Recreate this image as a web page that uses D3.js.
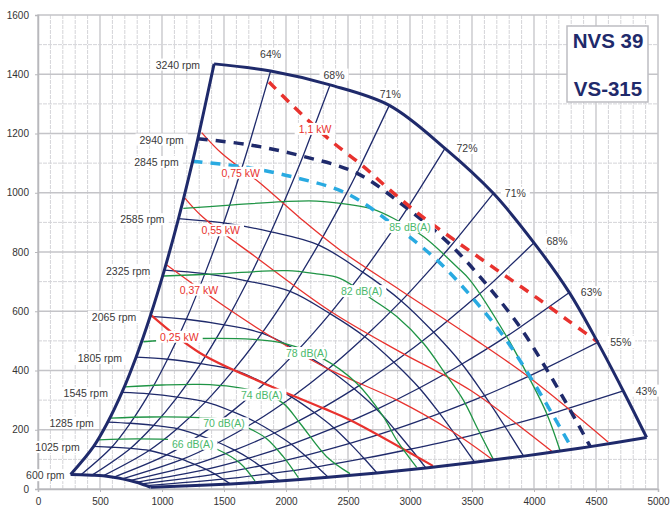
<!DOCTYPE html>
<html>
<head>
<meta charset="utf-8">
<script src="https://cdn.jsdelivr.net/npm/d3@7"></script>
<style>
body { margin: 0; background: #fff; }
text { font-family: "Liberation Sans", Arial, sans-serif; }
</style>
</head>
<body>
<script>
// speed curves, [flow m3/h, pressure Pa]
var rpmValues = [600, 1025, 1285, 1545, 1805, 2065, 2325, 2585, 2845, 2940, 3240];

var curve600  = [[263,49],[347,48.4],[436,46.8],[525,44.4],[608,39.4],[680,34.2],[741,28.5],[794,22.7],[836,17],[874,11.4],[909,6]];
var curve1025 = [[449,144],[594,141],[745,137],[896,130],[1038,115],[1162,100],[1265,83],[1356,66],[1428,50],[1493,33],[1553,17]];
var curve1285 = [[563,226],[744,222],[934,215],[1124,204],[1302,181],[1456,157],[1586,131],[1700,104],[1790,78],[1872,52],[1947,27]];
var curve1545 = [[677,326],[895,321],[1123,310],[1351,294],[1565,262],[1751,227],[1907,189],[2043,151],[2153,113],[2251,75],[2340,40]];
var curve1805 = [[791,445],[1045,438],[1312,423],[1578,402],[1828,357],[2046,310],[2228,258],[2387,206],[2515,154],[2630,103],[2734,54]];
var curve2065 = [[905,583],[1196,573],[1501,554],[1806,526],[2092,467],[2340,405],[2549,338],[2731,269],[2877,201],[3008,135],[3128,71]];
var curve2325 = [[1019,739],[1346,727],[1690,702],[2033,667],[2355,592],[2635,514],[2870,428],[3075,341],[3239,255],[3387,170],[3522,90]];
var curve2585 = [[1133,913],[1497,898],[1879,868],[2260,824],[2619,732],[2930,635],[3191,529],[3419,422],[3602,315],[3766,211],[3916,111]];
var curve2845 = [[1247,1106],[1647,1088],[2068,1052],[2488,998],[2882,887],[3224,770],[3512,641],[3763,511],[3964,382],[4145,255],[4310,134]];
var curve2940 = [[1289,1182],[1702,1162],[2137,1123],[2571,1066],[2978,947],[3332,822],[3630,684],[3888,546],[4096,408],[4283,273],[4454,143]];
var curve3240 = [[1420,1435],[1876,1411],[2355,1364],[2833,1295],[3282,1150],[3672,998],[4000,831],[4285,663],[4514,495],[4720,331],[4908,174]];

// efficiency on the 3240 rpm curve, points 1..9
var effLabels = ['64%', '68%', '71%', '72%', '71%', '68%', '63%', '55%', '43%'];

// power lines
var powerLabels = ['0,25 kW', '0,37 kW', '0,55 kW', '0,75 kW', '1,1 kW'];
var pw025 = [[917,585],[1306,459],[1815,358],[2298,273],[2516,233],[3185,78]];
var pw037 = [[1038,756],[1548,604],[1952,496],[2355,402],[2895,300],[3323,199],[3669,98]];
var pw055 = [[1185,982],[1331,917],[1766,780],[2355,601],[2919,463],[3484,334],[4153,124]];
var pw075 = [[1320,1203],[1481,1133],[1790,1033],[2113,915],[2435,807],[2919,672],[3484,516],[3968,375],[4597,159]];
var pw11  = [[1863,1374],[2056,1293],[2355,1178],[2621,1090],[2839,1009],[3081,925],[3379,834],[3702,739],[4024,645],[4290,564],[4516,496]];

// sound levels
var noiseLabels = ['66 dB(A)', '70 dB(A)', '74 dB(A)', '78 dB(A)', '82 dB(A)', '85 dB(A)'];
var db66 = [[487,166],[800,169],[1100,166],[1300,155],[1440,135],[1630,87],[1750,27]];
var db70 = [[581,239],[900,243],[1306,241],[1550,232],[1700,205],[1844,170],[1978,109],[2100,38]];
var db74 = [[702,345],[1000,351],[1306,353],[1575,345],[1800,325],[1978,289],[2113,222],[2328,109],[2516,52]];
var db78 = [[850,497],[1306,508],[1736,505],[1978,492],[2298,440],[2570,357],[2785,244],[2893,165],[3054,73]];
var db82 = [[1011,719],[1441,726],[2005,737],[2247,726],[2435,711],[2704,638],[2893,582],[3108,492],[3282,391],[3430,300],[3551,199],[3672,100]];
var db85 = [[1172,947],[1575,959],[1978,970],[2248,972],[2516,960],[2700,945],[2865,914],[3108,852],[3377,750],[3484,705],[3780,514],[3941,391],[4102,255],[4210,130]];

var titleLines = ['NVS 39', 'VS-315'];

var width = 672, height = 506;
var navy = '#1f2a6b', red = '#e8322e', green = '#1f9445', greenText = '#4cb96c', cyan = '#29aae1', grey = '#3a3a3a';

var x = d3.scaleLinear().domain([0, 5000]).range([38, 658]);
var y = d3.scaleLinear().domain([0, 1600]).range([489, 15]);

var svg = d3.select('body').append('svg')
	.attr('width', width)
	.attr('height', height);

// grid
var grid = svg.append('g');
grid.selectAll('.vx')
	.data(d3.range(100, 5000, 100))
	.enter().append('line')
		.attr('x1', function(d) { return x(d); })
		.attr('x2', function(d) { return x(d); })
		.attr('y1', y(0)).attr('y2', y(1600))
		.attr('stroke', function(d) { return d % 500 == 0 ? '#c4c4c8' : '#d4d4d8'; })
		.attr('stroke-width', function(d) { return d % 500 == 0 ? 1.3 : 1; })
		.attr('stroke-dasharray', function(d) { return d % 500 == 0 ? null : '4,1'; });
grid.selectAll('.hy')
	.data(d3.range(100, 1600, 100))
	.enter().append('line')
		.attr('y1', function(d) { return y(d); })
		.attr('y2', function(d) { return y(d); })
		.attr('x1', x(0)).attr('x2', x(5000))
		.attr('stroke', function(d) { return d % 200 == 0 ? '#c4c4c8' : '#d4d4d8'; })
		.attr('stroke-width', function(d) { return d % 200 == 0 ? 1.3 : 1; })
		.attr('stroke-dasharray', function(d) { return d % 200 == 0 ? null : '4,1'; });
grid.append('rect')
	.attr('x', x(0)).attr('y', y(1600))
	.attr('width', x(5000) - x(0)).attr('height', y(0) - y(1600))
	.attr('fill', 'none').attr('stroke', '#c4c4c8').attr('stroke-width', 1.5);

// axes
var xAxis = d3.axisBottom(x).tickValues(d3.range(0, 5001, 500)).tickFormat(d3.format('d')).tickSize(3).tickPadding(6);
var yAxis = d3.axisLeft(y).tickValues(d3.range(0, 1601, 200)).tickFormat(d3.format('d')).tickSize(3).tickPadding(6);
var gx = svg.append('g').attr('transform', 'translate(0,' + y(0) + ')').call(xAxis);
var gy = svg.append('g').attr('transform', 'translate(' + x(0) + ',0)').call(yAxis);
[gx, gy].forEach(function(g) {
	g.select('.domain').attr('stroke', '#b8b8bc').attr('stroke-width', 1.5);
	g.selectAll('.tick line').attr('stroke', '#b8b8bc');
	g.selectAll('.tick text').attr('fill', '#333').style('font-size', '10px')
		.style('font-family', '"Liberation Sans", Arial, sans-serif');
});

var line = d3.line()
	.x(function(d) { return x(d[0]); })
	.y(function(d) { return y(d[1]); })
	.curve(d3.curveCatmullRom.alpha(0.5));

var allCurves = [curve600, curve1025, curve1285, curve1545, curve1805, curve2065, curve2325, curve2585, curve2845, curve2940, curve3240];
var thinCurves = [curve1025, curve1285, curve1545, curve1805, curve2065, curve2325, curve2585];

var plot = svg.append('g');

// thin speed curves
plot.selectAll('.rpm')
	.data(thinCurves)
	.enter().append('path')
		.attr('d', line)
		.attr('fill', 'none')
		.attr('stroke', navy)
		.attr('stroke-width', 1.3);

// efficiency lines through the same point of each speed curve
var effLines = d3.range(1, 10).map(function(i) {
	return allCurves.map(function(c) { return c[i]; });
});
plot.selectAll('.eff')
	.data(effLines)
	.enter().append('path')
		.attr('d', line)
		.attr('fill', 'none')
		.attr('stroke', navy)
		.attr('stroke-width', 1.3);

// power lines
var powerLines = [pw025, pw037, pw055, pw075];
plot.selectAll('.pw')
	.data(powerLines)
	.enter().append('path')
		.attr('d', line)
		.attr('fill', 'none')
		.attr('stroke', red)
		.attr('stroke-width', function(d, i) { return i == 0 ? 2.2 : 1.3; });

// sound lines
var noiseLines = [db66, db70, db74, db78, db82, db85];
plot.selectAll('.db')
	.data(noiseLines)
	.enter().append('path')
		.attr('d', line)
		.attr('fill', 'none')
		.attr('stroke', green)
		.attr('stroke-width', 1.3);

// dashed curves
plot.append('path').attr('d', line(curve2845))
	.attr('fill', 'none').attr('stroke', cyan).attr('stroke-width', 3.5).attr('stroke-dasharray', '10,8');
plot.append('path').attr('d', line(curve2940))
	.attr('fill', 'none').attr('stroke', navy).attr('stroke-width', 3.5).attr('stroke-dasharray', '10,8');
plot.append('path').attr('d', line(pw11))
	.attr('fill', 'none').attr('stroke', red).attr('stroke-width', 3.5).attr('stroke-dasharray', '10,8');

// labels with white boxes
var labels = svg.append('g');
function boxLabel(px, py, txt, color, anchor) {
	var g = labels.append('g');
	var t = g.append('text')
		.attr('x', px).attr('y', py).attr('dy', '0.35em')
		.attr('text-anchor', anchor)
		.attr('fill', color)
		.style('font-size', '10.5px')
		.text(txt);
	var bb = t.node().getBBox();
	g.insert('rect', 'text')
		.attr('x', bb.x - 4).attr('y', bb.y)
		.attr('width', bb.width + 8).attr('height', bb.height)
		.attr('fill', '#fff');
}

function yAt(pts, q) {
	for (var i = 1; i < pts.length; i++) {
		if (q <= pts[i][0]) {
			var t = (q - pts[i-1][0]) / (pts[i][0] - pts[i-1][0]);
			return pts[i-1][1] + t * (pts[i][1] - pts[i-1][1]);
		}
	}
	return pts[pts.length - 1][1];
}

// rpm labels
allCurves.forEach(function(c, i) {
	var gap = rpmValues[i] == 600 ? 6 : 14;
	boxLabel(x(c[0][0]) - gap, y(c[0][1]) + 1, rpmValues[i] + ' rpm', grey, 'end');
});

// efficiency labels
var effOffsets = [[0,-17],[4,-10],[1,-11],[22,0],[22,0],[23,-1],[22,0],[23,0],[23,0]];
effLabels.forEach(function(lbl, i) {
	var p = curve3240[i + 1];
	boxLabel(x(p[0]) + effOffsets[i][0], y(p[1]) + effOffsets[i][1], lbl, grey, 'middle');
});

// power labels
var allPower = [pw025, pw037, pw055, pw075, pw11];
var powerLabelQ = [1140, 1298, 1473, 1635, 2234];
var powerLabelDy = [0, 2, 0, 5, 3];
powerLabels.forEach(function(lbl, i) {
	var q = powerLabelQ[i];
	boxLabel(x(q), y(yAt(allPower[i], q)) + powerLabelDy[i], lbl, red, 'middle');
});

// sound labels
var noiseLabelQ = [1248, 1500, 1804, 2167, 2610, 3000];
var noiseLabelDy = [2, 4, 2, 1, -1, -1];
noiseLabels.forEach(function(lbl, i) {
	var q = noiseLabelQ[i];
	boxLabel(x(q), y(yAt(noiseLines[i], q)) + noiseLabelDy[i], lbl, greenText, 'middle');
});

// outline on top
var leftEdge = allCurves.map(function(c) { return c[0]; });
var bottomEdge = allCurves.map(function(c) { return c[c.length - 1]; });
[curve600, curve3240, leftEdge, bottomEdge].forEach(function(pts) {
	svg.append('path').attr('d', line(pts))
		.attr('fill', 'none').attr('stroke', navy).attr('stroke-width', 3)
		.attr('stroke-linejoin', 'round');
});

// title box
svg.append('rect')
	.attr('x', 567).attr('y', 26).attr('width', 81).attr('height', 76)
	.attr('fill', '#fff').attr('stroke', '#bdbdc2').attr('stroke-width', 1.5);
svg.selectAll('.title')
	.data(titleLines)
	.enter().append('text')
		.attr('x', 608)
		.attr('y', function(d, i) { return 48 + i * 48; })
		.attr('text-anchor', 'middle')
		.attr('fill', navy)
		.style('font-size', '20.5px')
		.style('font-weight', 'bold')
		.text(function(d) { return d; });
</script>
</body>
</html>
